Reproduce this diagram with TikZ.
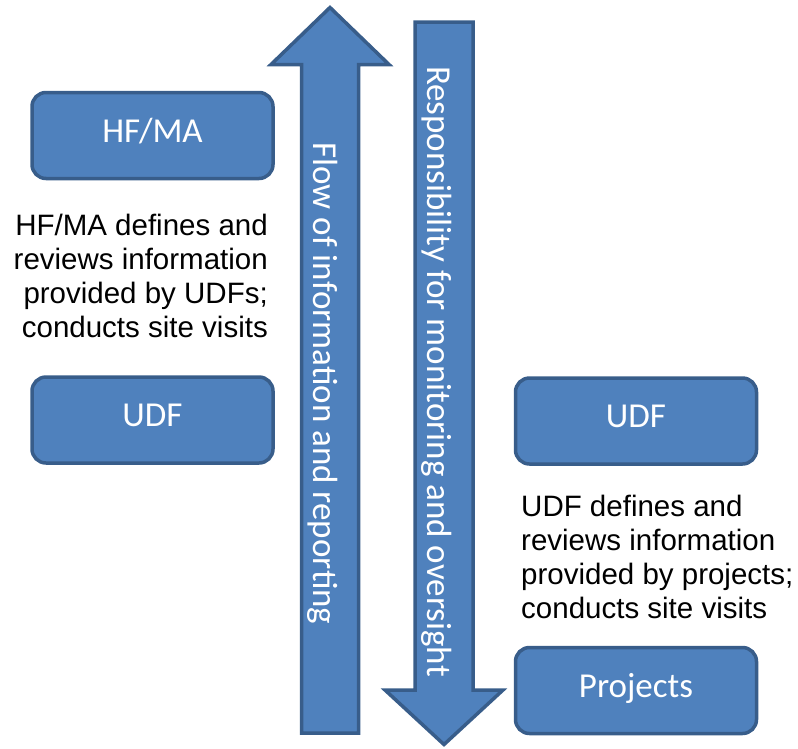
\documentclass[tikz,border=0pt]{standalone}
\usepackage{fontspec}
\setmainfont{Liberation Sans}
\newfontfamily\calibri{Carlito}
\usepackage{tikz}
\usetikzlibrary{positioning}
\definecolor{boxblue}{RGB}{79,129,189}
\definecolor{edgeblue}{RGB}{56,93,138}

\begin{document}
\begin{tikzpicture}[x=1pt, y=-1pt, node distance=180pt]
\tikzset{
  unit/.style={draw=edgeblue, line width=3.5pt, fill=boxblue, rounded corners=14pt, minimum width=241pt, minimum height=86pt, inner sep=0pt, text=white, text height=23pt, text depth=10pt, font=\calibri\fontsize{35}{42}\selectfont},
  note/.style={inner sep=0pt, font=\fontsize{29.5}{34}\selectfont},
  bigarrow/.style={draw=edgeblue, line width=3.5pt, fill=boxblue, line join=miter},
  banner/.style={inner sep=0pt, text=white, rotate=-90, anchor=base, font=\calibri\fontsize{35}{42}\selectfont}
}
\useasboundingbox (0,0) rectangle (798,748);

\draw[bigarrow] (330,7.5) -- (389,64.5) -- (358.5,64.5) -- (358.5,733) -- (301.5,733) -- (301.5,64.5) -- (271,64.5) -- cycle;
\draw[bigarrow] (415,22) -- (473,22) -- (473,690) -- (503,690) -- (444,744.5) -- (385,690) -- (415,690) -- cycle;
\node[banner] (flow) at (313,383.5) {Flow of information and reporting};
\node[banner] (resp) at (427,371.5) {Responsibility for monitoring and oversight};

\node[unit] (hfma) at (152.5,135.5) {HF/MA};
\node[unit] (udfl) at (152.5,420) {UDF};
\node[unit] (udfr) at (636,421) {UDF};
\node[unit, below=of udfr] (proj) {Projects};

\node[note, align=right, anchor=north east] (hfnote) at (268,214) {HF/MA defines and\\reviews information\\provided by UDFs;\\conducts site visits};
\node[note, align=left, anchor=north west] (udfnote) at (521,495) {UDF defines and\\reviews information\\provided by projects;\\conducts site visits};
\end{tikzpicture}
\end{document}
